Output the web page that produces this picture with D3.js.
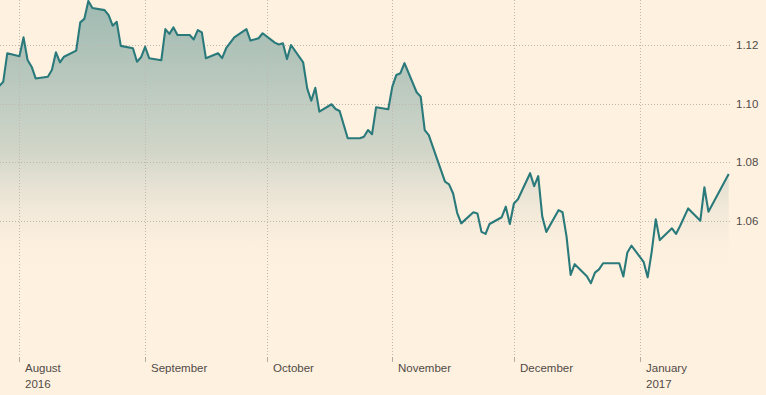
<!DOCTYPE html>
<html>
<head>
<meta charset="utf-8">
<script src="https://cdn.jsdelivr.net/npm/d3@7"></script>
<style>
html,body{margin:0;padding:0;background:#fff1e0;}
svg{display:block;}
text{font-family:"Liberation Sans",Arial,sans-serif;fill:#4f4b47;}
</style>
</head>
<body>
<svg id="chart" width="766" height="395"></svg>
<script>
const dates = ["2016-07-27","2016-07-28","2016-07-29","2016-08-01","2016-08-02","2016-08-03","2016-08-04","2016-08-05",
"2016-08-08","2016-08-09","2016-08-10","2016-08-11","2016-08-12","2016-08-15","2016-08-16","2016-08-17","2016-08-18","2016-08-19",
"2016-08-22","2016-08-23","2016-08-24","2016-08-25","2016-08-26","2016-08-29","2016-08-30","2016-08-31","2016-09-01","2016-09-02",
"2016-09-05","2016-09-06","2016-09-07","2016-09-08","2016-09-09","2016-09-12","2016-09-13","2016-09-14","2016-09-15","2016-09-16",
"2016-09-19","2016-09-20","2016-09-21","2016-09-23","2016-09-26","2016-09-27","2016-09-29","2016-09-30",
"2016-10-03","2016-10-04","2016-10-05","2016-10-06","2016-10-07","2016-10-10","2016-10-11","2016-10-12","2016-10-13","2016-10-14",
"2016-10-17","2016-10-18","2016-10-19","2016-10-21","2016-10-24","2016-10-25","2016-10-26","2016-10-27","2016-10-28","2016-10-31",
"2016-11-01","2016-11-02","2016-11-03","2016-11-04","2016-11-07","2016-11-08","2016-11-09","2016-11-10","2016-11-11",
"2016-11-14","2016-11-15","2016-11-16","2016-11-17","2016-11-18","2016-11-21","2016-11-22","2016-11-23","2016-11-24","2016-11-25",
"2016-11-28","2016-11-29","2016-11-30","2016-12-01","2016-12-02","2016-12-05","2016-12-06","2016-12-07","2016-12-08","2016-12-09",
"2016-12-12","2016-12-13","2016-12-14","2016-12-15","2016-12-16","2016-12-19","2016-12-20","2016-12-21","2016-12-22","2016-12-23",
"2016-12-26","2016-12-27","2016-12-28","2016-12-29","2016-12-30","2017-01-02","2017-01-03","2017-01-04","2017-01-05","2017-01-06",
"2017-01-09","2017-01-10","2017-01-11","2017-01-13","2017-01-16","2017-01-17","2017-01-18","2017-01-23"];

const values = [1.1060,1.1075,1.1172,1.1162,1.1226,1.1149,1.1126,1.1086,
1.1092,1.1115,1.1175,1.1141,1.1160,1.1181,1.1277,1.1289,1.1350,1.1326,
1.1319,1.1302,1.1266,1.1279,1.1197,1.1189,1.1143,1.1158,1.1194,1.1155,
1.1148,1.1254,1.1238,1.1260,1.1234,1.1234,1.1219,1.1251,1.1243,1.1155,
1.1172,1.1155,1.1189,1.1226,1.1254,1.1215,1.1223,1.1240,
1.1208,1.1202,1.1206,1.1152,1.1200,1.1141,1.1052,1.1010,1.1054,1.0973,
1.0998,1.0982,1.0975,1.0882,1.0882,1.0887,1.0910,1.0896,1.0988,1.0981,
1.1058,1.1098,1.1104,1.1138,1.1039,1.1024,1.0910,1.0893,1.0853,
1.0734,1.0725,1.0694,1.0628,1.0592,1.0630,1.0626,1.0563,1.0556,1.0590,
1.0613,1.0649,1.0590,1.0660,1.0674,1.0763,1.0719,1.0753,1.0615,1.0563,
1.0637,1.0630,1.0546,1.0416,1.0453,1.0412,1.0388,1.0424,1.0435,1.0456,
1.0456,1.0456,1.0411,1.0493,1.0516,1.0461,1.0408,1.0495,1.0606,1.0535,
1.0575,1.0556,1.0583,1.0643,1.0601,1.0715,1.0632,1.0760];

const tickDates = ["2016-08-01","2016-09-01","2016-10-01","2016-11-01","2016-12-01","2017-01-01"];
const tickMonths = ["August","September","October","November","December","January"];
const tickYears = ["2016","","","","","2017"];
const yTicks = [1.06, 1.08, 1.10, 1.12];

const parse = d3.timeParse("%Y-%m-%d");
const data = dates.map((d, i) => ({date: parse(d), value: values[i]}));

const svg = d3.select("#chart");
const W = 766, H = 395;
const plotRight = 730, gridBottom = 357;

const x = d3.scaleTime()
  .domain([parse("2016-07-27"), parse("2017-01-23")])
  .range([-0.8, 728.7]);
const y = d3.scaleLinear()
  .domain([1.04, 1.135])
  .range([279.7, 1.0]);

svg.append("rect").attr("width", W).attr("height", H).attr("fill", "#fff1e0");

const defs = svg.append("defs");
const grad = defs.append("linearGradient")
  .attr("id", "areaGrad")
  .attr("gradientUnits", "userSpaceOnUse")
  .attr("x1", 0).attr("x2", 0)
  .attr("y1", y(1.135)).attr("y2", y(1.04));
grad.append("stop").attr("offset", "0%").attr("stop-color", "#9fbab2").attr("stop-opacity", 1);
grad.append("stop").attr("offset", "55%").attr("stop-color", "#d2d6c9").attr("stop-opacity", 1);
grad.append("stop").attr("offset", "100%").attr("stop-color", "#fff1e0").attr("stop-opacity", 0);

const area = d3.area()
  .x(d => x(d.date))
  .y0(y(1.04))
  .y1(d => y(d.value));

svg.append("path").datum(data).attr("d", area).attr("fill", "url(#areaGrad)");

// horizontal grid
svg.append("g").selectAll("line").data(yTicks).join("line")
  .attr("x1", 0).attr("x2", plotRight)
  .attr("y1", d => Math.round(y(d)) + 0.5).attr("y2", d => Math.round(y(d)) + 0.5)
  .attr("stroke", "#bfb7ac").attr("stroke-dasharray", "1,2");

// vertical grid
const tickD = tickDates.map(parse);
svg.append("g").selectAll("line").data(tickD).join("line")
  .attr("x1", d => Math.round(x(d)) + 0.5).attr("x2", d => Math.round(x(d)) + 0.5)
  .attr("y1", 0).attr("y2", gridBottom)
  .attr("stroke", "#bfb7ac").attr("stroke-dasharray", "1,2");
svg.append("g").selectAll("line").data(tickD).join("line")
  .attr("x1", d => Math.round(x(d)) + 0.5).attr("x2", d => Math.round(x(d)) + 0.5)
  .attr("y1", gridBottom).attr("y2", gridBottom + 5)
  .attr("stroke", "#b5ada3");

// line
const line = d3.line().x(d => x(d.date)).y(d => y(d.value));
svg.append("path").datum(data).attr("d", line)
  .attr("fill", "none").attr("stroke", "#2a7a7b").attr("stroke-width", 2.1)
  .attr("stroke-linejoin", "round");

// x labels
const xl = svg.append("g").selectAll("text").data(tickD).join("text")
  .attr("x", d => Math.round(x(d)) + 6)
  .attr("y", 372)
  .attr("font-size", "11.5px");
xl.append("tspan").text((d, i) => tickMonths[i]);
xl.append("tspan").attr("x", d => Math.round(x(d)) + 6).attr("dy", 15.5).text((d, i) => tickYears[i]);

// y labels
const fmt = d3.format(".2f");
svg.append("g").selectAll("text").data(yTicks).join("text")
  .attr("x", 736)
  .attr("y", d => y(d) + 4)
  .attr("font-size", "11.5px")
  .text(d => fmt(d));
</script>
</body>
</html>
